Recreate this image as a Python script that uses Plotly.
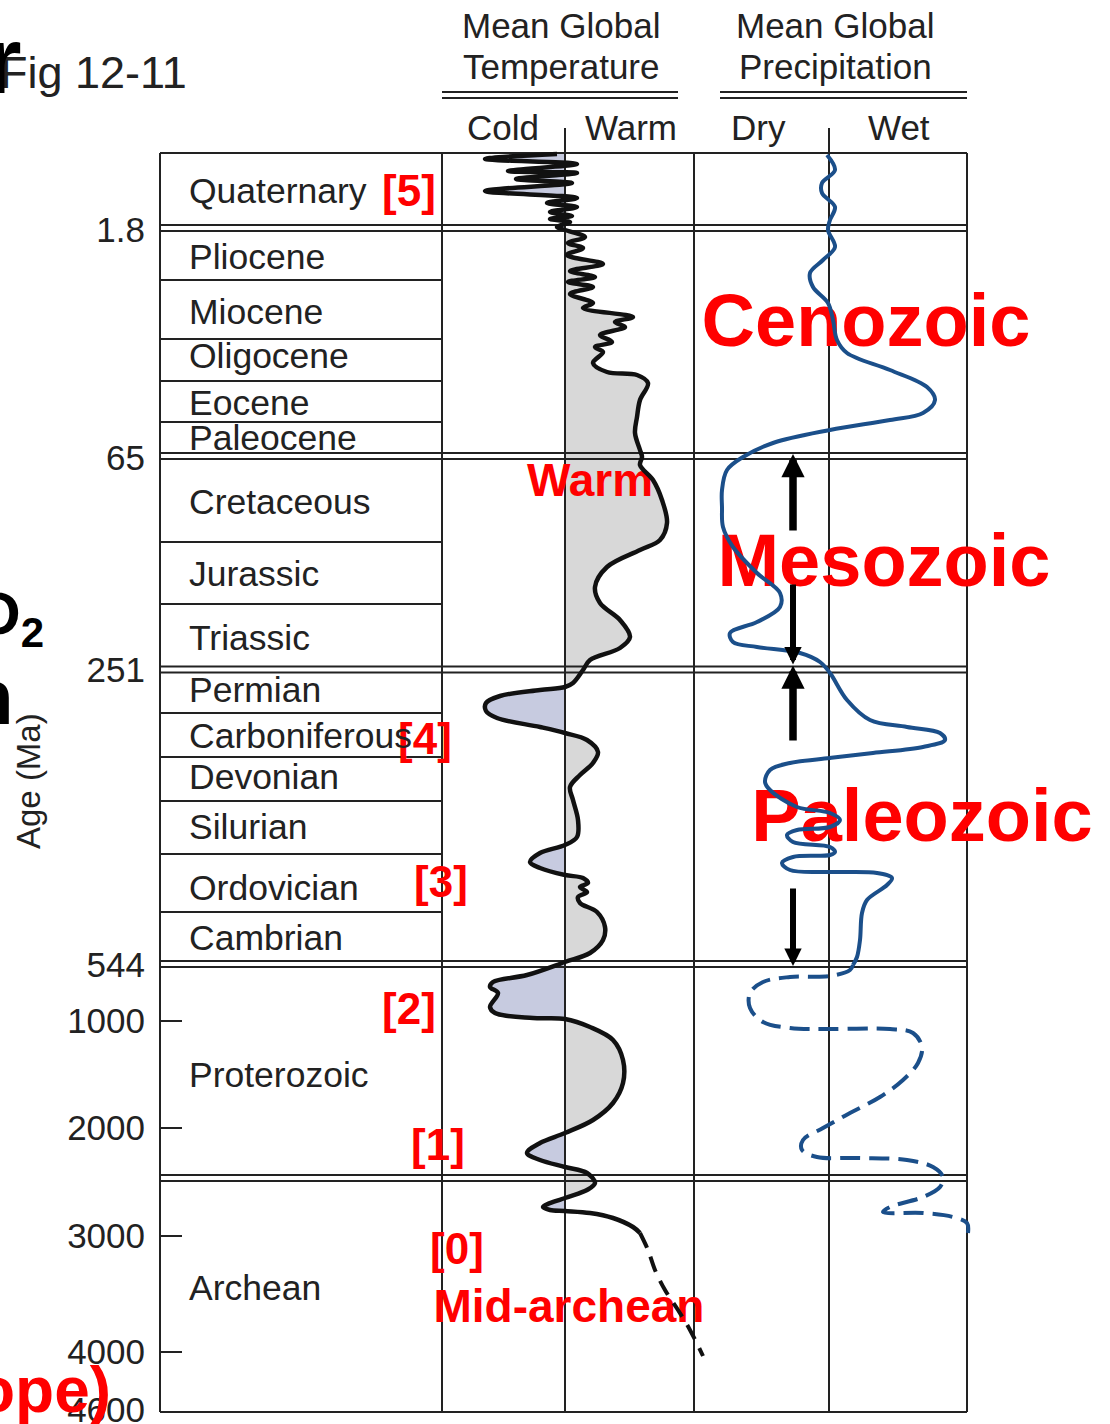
import plotly.graph_objects as go

W, H = 1110, 1424
FONT = "Liberation Sans, Arial, Helvetica, sans-serif"
INK = "#222222"
RED = "#ff0000"
PRECIP_BLUE = "#1b4f8a"
WARM_FILL = "#d8d8d8"
COLD_FILL = "#c7cbe0"

# ---------------- layout geometry (pixels) ----------------
TABLE_L, TABLE_R, TABLE_T, TABLE_B = 160, 967, 153, 1412
TEMP_L, TEMP_MID, TEMP_R = 442, 565, 694
PRECIP_MID = 829
NAME_X = 187
MID_LINE_TOP = 128
HEADER_RULES = (92, 98)
DOUBLE_GAP = 3
PX_PER_UNIT = 10.0   # index units -> pixels on both climate columns


def fx(p):
    return p / W


def row(p):
    return p - TABLE_T


# ---------------- geologic time scale ----------------
PERIODS = ["Quaternary", "Pliocene", "Miocene", "Oligocene", "Eocene", "Paleocene",
           "Cretaceous", "Jurassic", "Triassic", "Permian", "Carboniferous", "Devonian",
           "Silurian", "Ordovician", "Cambrian", "Proterozoic", "Archean"]
# lower edge of every period on the chart's time scale (rows)
PERIOD_BASE = [75, 127, 186, 228, 269, 303, 389, 451, 516.5, 560, 604, 648, 701,
               759, 811, 1025, 1259]
# boundaries drawn as double rules across the whole table
ERA_BASE = [75, 303, 516.5, 811, 1025]
# where each period name sits (rows)
PERIOD_LABEL_ROW = [38, 104, 159, 203, 250, 285, 349, 421, 485, 537, 583, 624, 674,
                    735, 785, 922, 1135]

AGE_TICK_TEXT = ["1.8", "65", "251", "544", "1000", "2000", "3000", "4000", "4600"]
AGE_TICK_ROW = [77, 305, 517, 812, 868, 975, 1083, 1199, 1257]
AGE_TICK_MARKED = ["1000", "2000", "3000", "4000"]

# ---------------- mean global temperature (index, 0 = long-term mean) ----------------
TEMP_ROW = [1, 6, 11, 18, 20, 26, 30, 38, 45, 50, 54, 59, 63, 66, 69, 74, 77, 84, 90, 95,
            102, 111, 118, 124, 129, 134, 141, 150, 155, 164, 169, 174, 182, 189, 194, 199,
            210, 219, 222, 230, 247, 264, 280, 297, 304, 312, 327, 347, 370, 387, 397, 414,
            434, 450, 467, 484, 495, 507, 517, 530, 534, 537, 543, 550, 558, 565, 574, 580,
            587, 599, 610, 622, 634, 647, 667, 684, 692, 700, 709, 715, 722, 725, 730, 734,
            739, 744, 750, 759, 774, 787, 800, 809, 822, 829, 834, 840, 854, 860, 865, 866,
            874, 887, 907, 930, 950, 967, 980, 990, 1000, 1007, 1014, 1020, 1030, 1037,
            1045, 1054, 1057, 1058, 1060, 1065, 1074, 1080]
TEMP_IDX = [-0.8, -8.0, 1.2, -5.7, 1.2, -4.9, 0.7, -8.0, 1.2, -1.8, 1.2, -1.5, 0.7, -1.5,
            0.5, -0.8, 0.0, 2.0, 0.3, 1.8, 0.2, 3.8, 0.5, 3.0, 0.3, 2.8, 0.5, 2.8, 1.8, 6.8,
            5.0, 6.0, 3.5, 4.7, 3.0, 3.8, 2.8, 4.2, 7.2, 8.3, 7.5, 7.2, 7.0, 7.5, 7.7, 7.5,
            8.8, 9.7, 10.2, 9.5, 7.5, 4.2, 3.0, 3.5, 5.5, 6.5, 5.5, 2.5, 1.8, 0.8, 0.0, -2.5,
            -6.5, -7.9, -7.9, -6.8, -2.5, 0.0, 2.2, 3.3, 2.8, 1.5, 0.5, 0.8, 1.3, 1.2, 0.0,
            -2.5, -3.5, -2.5, 0.0, 1.8, 2.3, 1.5, 2.2, 1.3, 1.5, 3.2, 4.0, 3.8, 2.5, 0.0,
            -3.8, -7.2, -7.5, -6.7, -7.5, -7.0, -3.2, 0.0, 2.5, 4.8, 5.8, 5.8, 4.8, 2.8, 0.0,
            -2.5, -3.8, -2.5, 0.0, 2.2, 3.0, 2.2, 0.0, -2.2, -1.5, 0.0, 2.5, 4.8, 6.8, 7.5]
# shading stops where the curve last crosses the mean line
TEMP_SHADE_END_ROW = 1058
# early Archean: poorly constrained
TEMP_ROW_INFERRED = [1080, 1097, 1117, 1137, 1157, 1177, 1203]
TEMP_IDX_INFERRED = [7.5, 8.3, 9.0, 10.0, 11.3, 12.5, 13.8]

# ---------------- mean global precipitation (index, 0 = long-term mean) ----------------
PRECIP_ROW = [2, 17, 30, 40, 54, 67, 77, 94, 107, 120, 134, 150, 167, 187, 200, 217, 234,
              247, 260, 267, 277, 290, 304, 317, 337, 354, 374, 394, 420, 440, 454, 469,
              480, 489, 494, 500, 509, 520, 547, 567, 574, 580, 587, 594, 600, 605, 610,
              617, 629, 637, 654, 660, 667, 674, 677, 682, 689, 694, 699, 702, 704, 710,
              717, 719, 720, 725, 732, 747, 760, 787, 804, 812]
PRECIP_IDX = [-0.2, 0.6, -0.7, -0.7, 0.6, 0.1, -0.1, 0.6, -0.6, -1.9, -1.6, -0.1, 0.4, 0.8,
              1.8, 6.1, 9.8, 10.6, 9.4, 6.1, 0.1, -5.6, -8.6, -10.2, -10.7, -10.7, -10.6,
              -9.6, -7.2, -4.9, -4.9, -7.2, -9.9, -9.6, -7.2, -2.9, -0.9, 0.1, 1.8, 4.1,
              7.8, 11.1, 11.6, 9.4, 4.4, 0.1, -3.9, -5.9, -6.4, -5.9, -3.2, 0.1, 1.1, 0.1,
              -3.2, -4.2, -3.6, 0.1, 0.6, 0.1, -3.6, -4.7, -3.9, 0.1, 4.8, 6.3, 5.8, 3.8,
              3.3, 3.1, 2.8, 2.4]
PRECIP_ROW_INFERRED = [812, 817, 823, 824, 829, 840, 855, 869, 875, 876, 876, 880, 894, 910,
                       927, 944, 960, 975, 987, 997, 1004, 1005, 1007, 1014, 1024, 1034,
                       1044, 1054, 1059, 1060, 1064, 1070, 1080]
PRECIP_IDX_INFERRED = [2.4, 2.1, 0.1, -3.9, -6.6, -7.9, -7.9, -6.6, -3.9, 0.1, 6.1, 8.4,
                       9.3, 8.9, 7.4, 5.1, 2.1, -0.6, -2.6, -2.7, -1.2, 2.8, 7.8, 10.4,
                       11.4, 11.1, 9.4, 6.1, 5.4, 9.4, 12.4, 13.8, 13.9]

# ---------------- red notes ----------------
NOTE_TEXT = ["[5]", "[4]", "[3]", "[2]", "[1]", "[0]", "Mid-archean", "Warm"]
NOTE_X = [409, 425, 441, 409, 438, 457, 569, 590]
NOTE_ROW = [42, 590, 733, 860, 996, 1100, 1157, 331]
NOTE_SIZE = [44, 44, 44, 44, 44, 44, 46, 46]

ERA_TEXT = ["Cenozoic", "Mesozoic", "Paleozoic"]
ERA_X = [866, 884, 922]
ERA_ROW = [174, 414, 669]

# arrows spanning the Mesozoic and Paleozoic (tail row, tip row, width, head size)
ARROW_X = (793 - PRECIP_MID) / PX_PER_UNIT
ARROWS = [(379, ERA_BASE[1] - 2, 7.5, 0.62), (430, ERA_BASE[2] - 5, 6, 0.58),
          (589, ERA_BASE[2] - 4, 7.5, 0.62), (734, ERA_BASE[3] + 2, 6, 0.58)]

Y_RANGE = [H - TABLE_T, -TABLE_T]


def unit_range(left, mid, right):
    return [(left - mid) / PX_PER_UNIT, (right - mid) / PX_PER_UNIT]


fig = go.Figure()

# xy: age axis (labels) ; xy2: tick marks only
fig.add_trace(go.Scatter(x=[None], y=[None], xaxis="x", yaxis="y", showlegend=False))
fig.add_trace(go.Scatter(x=[None], y=[None], xaxis="x", yaxis="y2", showlegend=False))

# cold / warm shading of the temperature curve
shade_n = TEMP_ROW.index(TEMP_SHADE_END_ROW) + 1
for axis, colour in (("x2", COLD_FILL), ("x3", WARM_FILL)):
    fig.add_trace(go.Scatter(x=TEMP_IDX[:shade_n], y=TEMP_ROW[:shade_n], xaxis=axis,
                             yaxis="y", mode="lines",
                             line=dict(width=0, shape="spline", smoothing=1.0),
                             fill="tozerox", fillcolor=colour, showlegend=False,
                             hoverinfo="skip"))

# table rules
gx, gy = [], []


def seg(x0, x1, y0, y1):
    gx.extend([x0, x1, None])
    gy.extend([y0, y1, None])


bottom = row(TABLE_B)
seg(TABLE_L, TABLE_R, 0, 0)
seg(TABLE_L, TABLE_R, bottom, bottom)
seg(TABLE_L, TABLE_L, 0, bottom)
seg(TABLE_R, TABLE_R, 0, bottom)
seg(TEMP_L, TEMP_L, 0, bottom)
seg(TEMP_R, TEMP_R, 0, bottom)
seg(TEMP_MID, TEMP_MID, row(MID_LINE_TOP), bottom)
seg(PRECIP_MID, PRECIP_MID, row(MID_LINE_TOP), bottom)
for b in PERIOD_BASE[:-1]:
    if b in ERA_BASE:
        seg(TABLE_L, TABLE_R, b - DOUBLE_GAP, b - DOUBLE_GAP)
        seg(TABLE_L, TABLE_R, b + DOUBLE_GAP, b + DOUBLE_GAP)
    else:
        seg(TABLE_L, TEMP_L, b, b)
for hy in HEADER_RULES:
    seg(TEMP_L, 678, row(hy), row(hy))
    seg(720, TABLE_R, row(hy), row(hy))

fig.add_trace(go.Scatter(x=gx, y=gy, xaxis="x4", yaxis="y", mode="lines",
                         line=dict(color=INK, width=2), showlegend=False,
                         hoverinfo="skip"))

# red notes
fig.add_trace(go.Scatter(x=NOTE_X, y=NOTE_ROW, xaxis="x4", yaxis="y", mode="text",
                         text=[f"<b>{t}</b>" for t in NOTE_TEXT],
                         textposition="middle center",
                         textfont=dict(family=FONT, size=NOTE_SIZE, color=RED),
                         showlegend=False, hoverinfo="skip"))
fig.add_trace(go.Scatter(x=ERA_X, y=ERA_ROW, xaxis="x4", yaxis="y", mode="text",
                         text=[f"<b>{t}</b>" for t in ERA_TEXT],
                         textposition="middle center",
                         textfont=dict(family=FONT, size=74, color=RED),
                         showlegend=False, hoverinfo="skip"))

# temperature curve
fig.add_trace(go.Scatter(x=TEMP_IDX, y=TEMP_ROW, xaxis="x5", yaxis="y", mode="lines",
                         line=dict(color="#111111", width=4.5, shape="spline", smoothing=1.0),
                         showlegend=False, hoverinfo="skip"))
fig.add_trace(go.Scatter(x=TEMP_IDX_INFERRED, y=TEMP_ROW_INFERRED, xaxis="x5", yaxis="y",
                         mode="lines",
                         line=dict(color="#111111", width=4, shape="spline", smoothing=1.0,
                                   dash="16px,10px"),
                         showlegend=False, hoverinfo="skip"))

# precipitation curve
fig.add_trace(go.Scatter(x=PRECIP_IDX, y=PRECIP_ROW, xaxis="x6", yaxis="y", mode="lines",
                         line=dict(color=PRECIP_BLUE, width=4, shape="spline", smoothing=1.0),
                         showlegend=False, hoverinfo="skip"))
fig.add_trace(go.Scatter(x=PRECIP_IDX_INFERRED, y=PRECIP_ROW_INFERRED, xaxis="x6", yaxis="y",
                         mode="lines",
                         line=dict(color=PRECIP_BLUE, width=4, shape="spline", smoothing=1.0,
                                   dash="20px,9px"),
                         showlegend=False, hoverinfo="skip"))

hidden = dict(visible=False, showgrid=False, zeroline=False, fixedrange=True)
fig.update_layout(
    width=W, height=H, margin=dict(l=0, r=0, t=0, b=0, autoexpand=False),
    paper_bgcolor="white", plot_bgcolor="rgba(0,0,0,0)",
    showlegend=False, hovermode=False,
    xaxis=dict(hidden, domain=[fx(TABLE_L), fx(TEMP_L)], range=[0, 1], anchor="y"),
    xaxis2=dict(hidden, domain=[fx(TEMP_L), fx(TEMP_MID)],
                range=unit_range(TEMP_L, TEMP_MID, TEMP_MID), anchor="y"),
    xaxis3=dict(hidden, domain=[fx(TEMP_MID), fx(TEMP_R)],
                range=unit_range(TEMP_MID, TEMP_MID, TEMP_R), anchor="y"),
    xaxis4=dict(hidden, domain=[0, 1], range=[0, W], anchor="y"),
    xaxis5=dict(hidden, domain=[fx(TEMP_L), fx(720)],
                range=unit_range(TEMP_L, TEMP_MID, 720), anchor="y"),
    xaxis6=dict(hidden, domain=[fx(TEMP_R), fx(990)],
                range=unit_range(TEMP_R, PRECIP_MID, 990), anchor="y"),
    yaxis=dict(domain=[0, 1], range=Y_RANGE, anchor="x", side="left",
               tickvals=AGE_TICK_ROW, ticktext=AGE_TICK_TEXT, ticks="",
               tickfont=dict(family=FONT, size=35, color=INK),
               showgrid=False, zeroline=False, showline=False, fixedrange=True,
               automargin=False, ticklabelstandoff=14, ticklabeloverflow="allow"),
    yaxis2=dict(overlaying="y", anchor="x", side="left", range=Y_RANGE,
                tickvals=[AGE_TICK_ROW[AGE_TICK_TEXT.index(t)] for t in AGE_TICK_MARKED],
                ticks="inside", ticklen=22, tickwidth=2, tickcolor=INK,
                showticklabels=False, showgrid=False, zeroline=False, showline=False,
                automargin=False, fixedrange=True),
)

ann = []


def text(t, x, y, size=34, color=INK, xanchor="center", **kw):
    ann.append(dict(text=t, x=fx(x), y=row(y), xref="paper", yref="y", showarrow=False,
                    xanchor=xanchor, yanchor="middle",
                    font=dict(family=FONT, size=size, color=color), **kw))


# column headers
text("Mean Global", 561, 25, size=35)
text("Temperature", 561, 66, size=35)
text("Mean Global", 835, 25, size=35)
text("Precipitation", 835, 66, size=35)
text("Cold", 503, 127, size=35)
text("Warm", 631, 127, size=35)
text("Dry", 758, 127, size=35)
text("Wet", 899, 127, size=35)

# period names
for name, r in zip(PERIODS, PERIOD_LABEL_ROW):
    ann.append(dict(text=name, x=fx(NAME_X), y=r, xref="paper", yref="y",
                    showarrow=False, xanchor="left", yanchor="middle",
                    font=dict(family=FONT, size=35.5, color=INK)))

text("Age (Ma)", 28, 781, size=33, textangle=-90)
text("Fig 12-11", -2, 72, size=45, xanchor="left")
text("<b>r</b>", 24, 60, size=94, color="#000000", xanchor="right")
text("<b>O<sub>2</sub></b>", 46, 618, size=60, color="#000000", xanchor="right")
text("<b>n</b>", 16, 697, size=78, color="#000000", xanchor="right")
text("<b>ope)</b>", 113, 1390, size=64, color=RED, xanchor="right")

for tail, tip, width, size in ARROWS:
    ann.append(dict(x=ARROW_X, y=tip, ax=ARROW_X, ay=tail, xref="x6", yref="y",
                    axref="x6", ayref="y", text="", showarrow=True, arrowhead=2,
                    arrowsize=size, arrowwidth=width, arrowcolor="#000000", standoff=0))

fig.update_layout(annotations=ann)
fig.write_html("out.html")
